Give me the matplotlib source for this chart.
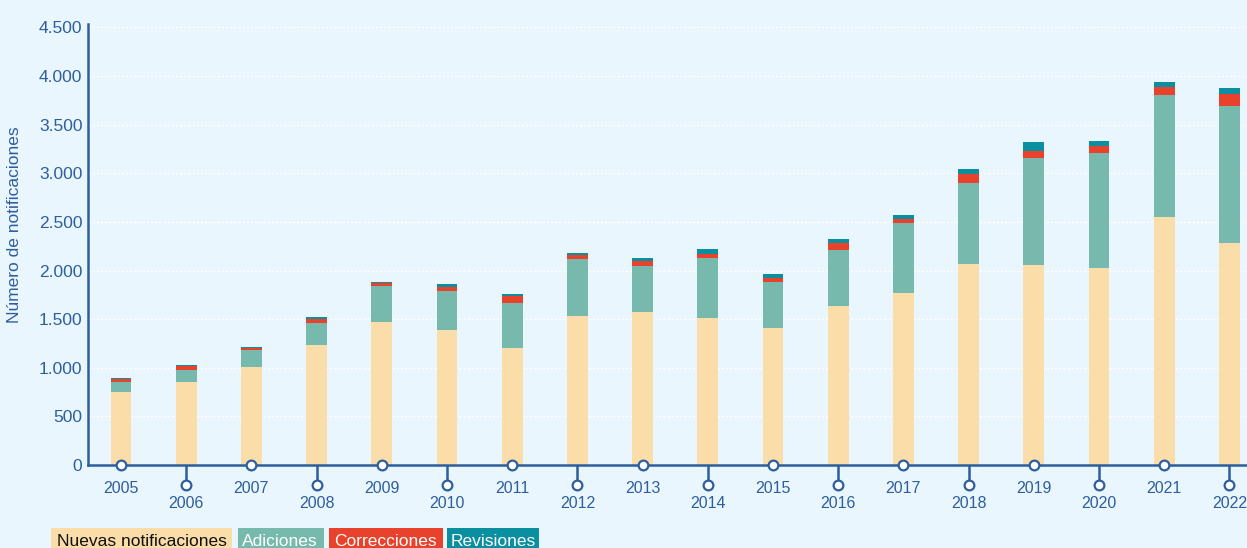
import matplotlib
matplotlib.use("Agg")
import matplotlib.pyplot as plt
from matplotlib.ticker import FuncFormatter, FixedLocator
from matplotlib.patches import Rectangle
import matplotlib.transforms as mtransforms

years = ["2005", "2006", "2007", "2008", "2009", "2010", "2011", "2012", "2013",
         "2014", "2015", "2016", "2017", "2018", "2019", "2020", "2021", "2022"]
nuevas = [750, 855, 1005, 1235, 1470, 1390, 1200, 1530, 1575, 1510, 1410, 1635,
          1770, 2065, 2055, 2025, 2550, 2280]
adiciones = [100, 120, 180, 225, 370, 400, 465, 590, 470, 615, 470, 575,
             720, 835, 1100, 1180, 1255, 1410]
correcciones = [30, 40, 17, 38, 28, 40, 75, 38, 48, 48, 45, 70,
                40, 95, 72, 75, 80, 130]
revisiones = [10, 10, 10, 24, 14, 30, 17, 24, 34, 45, 38, 45,
              40, 48, 92, 48, 55, 55]
series_names = ["Nuevas notificaciones", "Adiciones", "Correcciones", "Revisiones"]

BG = "#EAF6FE"
BLUE = "#2D5E9E"
colors = ["#FADDA9", "#77BAAD", "#E8412C", "#0A8FA0"]
text_colors = ["#111111", "white", "white", "white"]

plt.rcParams['font.family'] = ['Liberation Sans', 'DejaVu Sans']

W, H = 1247, 548
fig = plt.figure(figsize=(W / 100, H / 100), dpi=100)
fig.patch.set_facecolor(BG)
ax = fig.add_axes([88 / W, (H - 465) / H, (W - 88) / W, (465 - 24) / H])
ax.set_facecolor(BG)

x = list(range(len(years)))
bw = 0.32
bottom = [0] * len(years)
for vals, c in zip([nuevas, adiciones, correcciones, revisiones], colors):
    ax.bar(x, vals, bw, bottom=bottom, color=c, linewidth=0, zorder=2)
    bottom = [b + v for b, v in zip(bottom, vals)]

ax.set_xlim(-0.506, 17.27)
ax.set_ylim(0, 4535)
ax.set_yticks(range(0, 4501, 500))
ax.yaxis.set_major_formatter(FuncFormatter(lambda v, p: f"{int(v):,}".replace(",", ".")))
ax.yaxis.grid(True, color="white", linestyle=(0, (1.5, 1.5)), linewidth=1.0, zorder=1)
ax.set_axisbelow(True)
ax.tick_params(axis='y', length=0, pad=4, labelsize=12.5, labelcolor=BLUE)

for s in ["top", "right"]:
    ax.spines[s].set_visible(False)
for s in ["left", "bottom"]:
    ax.spines[s].set_color(BLUE)
    ax.spines[s].set_linewidth(1.8)
    ax.spines[s].set_zorder(4)

even = [i for i in x if i % 2 == 0]
odd = [i for i in x if i % 2 == 1]
ax.xaxis.set_major_locator(FixedLocator(even))
ax.xaxis.set_minor_locator(FixedLocator(odd))
ax.set_xticklabels([years[i] for i in even])
ax.set_xticklabels([years[i] for i in odd], minor=True)
ax.tick_params(axis='x', which='major', length=0, pad=11.5, labelsize=11.5, labelcolor=BLUE)
ax.tick_params(axis='x', which='minor', length=14.5, width=1.8, color=BLUE,
               direction='out', pad=8, labelsize=11.5, labelcolor=BLUE)

# circle markers on ticks
trans = mtransforms.blended_transform_factory(ax.transData, ax.transAxes)
ax.plot(even, [0] * len(even), linestyle='none', marker='o', markersize=7,
        markerfacecolor='white', markeredgecolor=BLUE, markeredgewidth=1.6,
        transform=trans, clip_on=False, zorder=5)
offset = mtransforms.ScaledTranslation(0, -20 / 100, fig.dpi_scale_trans)
ax.plot(odd, [0] * len(odd), linestyle='none', marker='o', markersize=7,
        markerfacecolor='white', markeredgecolor=BLUE, markeredgewidth=1.6,
        transform=trans + offset, clip_on=False, zorder=5)

ax.set_ylabel("Número de notificaciones", fontsize=12.5, color=BLUE)
ax.yaxis.set_label_coords(-0.057, 0.545)

# legend boxes
boxes = [(51, 232, 57), (238, 324, 242), (329, 443, 334), (447, 539, 451)]
for (x0, x1, tx), name, c, tc in zip(boxes, series_names, colors, text_colors):
    fig.patches.append(Rectangle((x0 / W, 0), (x1 - x0) / W, (H - 528) / H,
                                 transform=fig.transFigure, facecolor=c,
                                 edgecolor='none', zorder=1))
    fig.text(tx / W, (H - 540) / H, name, color=tc, fontsize=12.5,
             ha='left', va='center_baseline', zorder=2)

fig.savefig("out.png", dpi=100, facecolor=BG)
